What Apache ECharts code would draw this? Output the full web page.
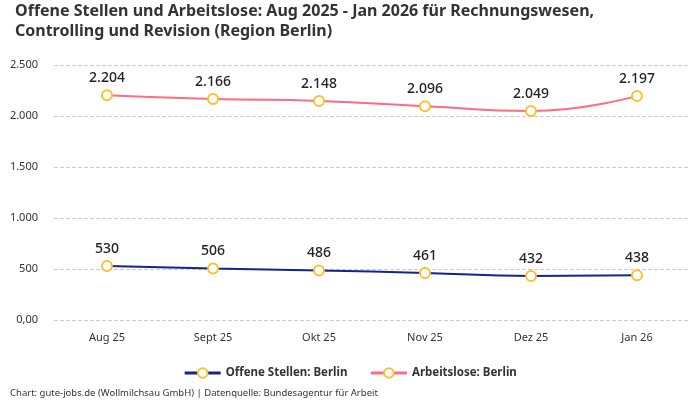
<!DOCTYPE html>
<html><head><meta charset="utf-8">
<script src="https://cdn.jsdelivr.net/npm/echarts@6/dist/echarts.min.js"></script>
<style>html,body{margin:0;padding:0;background:#fff}#c{width:700px;height:400px}</style>
</head><body><div id="c"></div>
<script>
var categories = ['Aug 25','Sept 25','Okt 25','Nov 25','Dez 25','Jan 26'];
var offeneStellen = [530, 506, 486, 461, 432, 438];
var arbeitslose = [2204, 2166, 2148, 2096, 2049, 2197];
var yTicks = [0, 500, 1000, 1500, 2000, 2500];

function fmt(v){
  if (v === 0) return '0,00';
  return String(v).replace(/\B(?=(\d{3})+(?!\d))/g, '.');
}
var FONT = 'Noto Sans';
var chart = echarts.init(document.getElementById('c'));
function series(name, data, color){
  return {
    name: name, type: 'line', data: data, smooth: true,
    symbol: 'circle', symbolSize: 10,
    lineStyle: {color: color, width: 2},
    itemStyle: {color: '#fff', borderColor: '#fbc02d', borderWidth: 2},
    label: {show: true, position: 'top', distance: 4, formatter: function(p){return fmt(p.value);},
      fontFamily: FONT, fontSize: 14, fontWeight: 500, color: '#222'}
  };
}
chart.setOption({
  animation: false,
  textStyle: {fontFamily: FONT},
  title: {
    text: 'Offene Stellen und Arbeitslose: Aug 2025 - Jan 2026 für Rechnungswesen,\nControlling und Revision (Region Berlin)',
    left: 10, top: -4,
    textStyle: {fontFamily: FONT, fontSize: 16, fontWeight: 'bold', color: '#333', lineHeight: 20}
  },
  legend: {
    bottom: 16, left: 'center', itemWidth: 36, itemHeight: 12, itemGap: 22,
    textStyle: {fontFamily: FONT, fontSize: 11.5, fontWeight: 'bold', color: '#333'},
    data: [
      {name: 'Offene Stellen: Berlin', itemStyle: {color: '#fff', borderColor: '#fbc02d', borderWidth: 2}, lineStyle: {color: '#14248c', width: 3}},
      {name: 'Arbeitslose: Berlin', itemStyle: {color: '#fff', borderColor: '#fbc02d', borderWidth: 2}, lineStyle: {color: '#ff6b81', width: 3}}
    ]
  },
  graphic: [{type: 'text', left: 10, bottom: 2,
    style: {text: 'Chart: gute-jobs.de (Wollmilchsau GmbH) | Datenquelle: Bundesagentur für Arbeit', fontFamily: FONT, fontSize: 9.5, fill: '#333'}}],
  grid: {left: 54, right: 10, top: 65, bottom: 80},
  xAxis: {
    type: 'category', data: categories, boundaryGap: true,
    axisLine: {show: false}, axisTick: {show: false},
    axisLabel: {fontFamily: FONT, fontSize: 11, color: '#333', margin: 12}
  },
  yAxis: {
    type: 'value', min: 0, max: 2500, interval: 500,
    axisLabel: {fontFamily: FONT, fontSize: 11, color: '#333', margin: 16, formatter: fmt},
    splitLine: {lineStyle: {type: 'dashed', color: '#cccccc'}},
    axisLine: {show: false}, axisTick: {show: false}
  },
  series: [
    series('Offene Stellen: Berlin', offeneStellen, '#14248c'),
    series('Arbeitslose: Berlin', arbeitslose, '#ff6b81')
  ]
});
</script></body></html>
